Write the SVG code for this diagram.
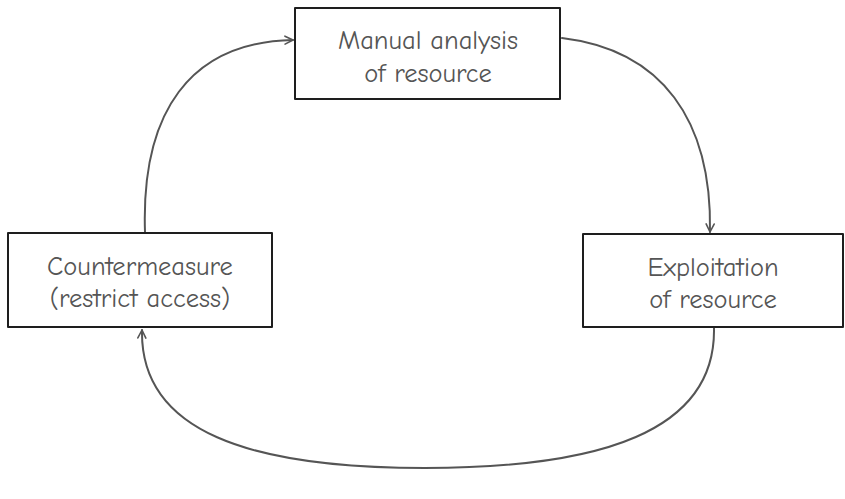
<svg xmlns="http://www.w3.org/2000/svg" width="845" height="499" viewBox="0 0 845 499">
<defs>
<style>
.box{fill:#ffffff;stroke:#1e1e1e;stroke-width:2;stroke-linejoin:round}
.lbl{font-family:"Comic Neue","Liberation Sans",sans-serif;font-size:26.5px;fill:#555555;text-anchor:middle}
.edge{fill:none;stroke:#555555;stroke-width:2;stroke-linecap:round}
</style>
<marker id="arr" viewBox="0 0 10 10" refX="9" refY="5" markerWidth="10" markerHeight="10" markerUnits="userSpaceOnUse" orient="auto">
<path d="M1,1 L9,5 L1,9" fill="none" stroke="#555555" stroke-width="1.6" stroke-linecap="round" stroke-linejoin="round"/>
</marker>
</defs>
<rect width="845" height="499" fill="#ffffff"/>
<g id="connectors">
<path class="edge" d="M145,232 C141,112 190,42 293,40" marker-end="url(#arr)"/>
<path class="edge" d="M562,38 C662,50 712,120 710,232" marker-end="url(#arr)"/>
<path class="edge" d="M714,328 C716,432 600,468 425,468 C250,468 140,432 142,330" marker-end="url(#arr)"/>
</g>
<g id="node-manual">
<rect class="box" x="295" y="8" width="265" height="91"/>
<text class="lbl" x="428" y="49">Manual analysis</text>
<text class="lbl" x="428" y="82">of resource</text>
</g>
<g id="node-countermeasure">
<rect class="box" x="8" y="233" width="264" height="94"/>
<text class="lbl" x="140" y="275">Countermeasure</text>
<text class="lbl" x="140" y="307">(restrict access)</text>
</g>
<g id="node-exploitation">
<rect class="box" x="583" y="234" width="260" height="93"/>
<text class="lbl" x="713" y="276">Exploitation</text>
<text class="lbl" x="713" y="308">of resource</text>
</g>
</svg>
